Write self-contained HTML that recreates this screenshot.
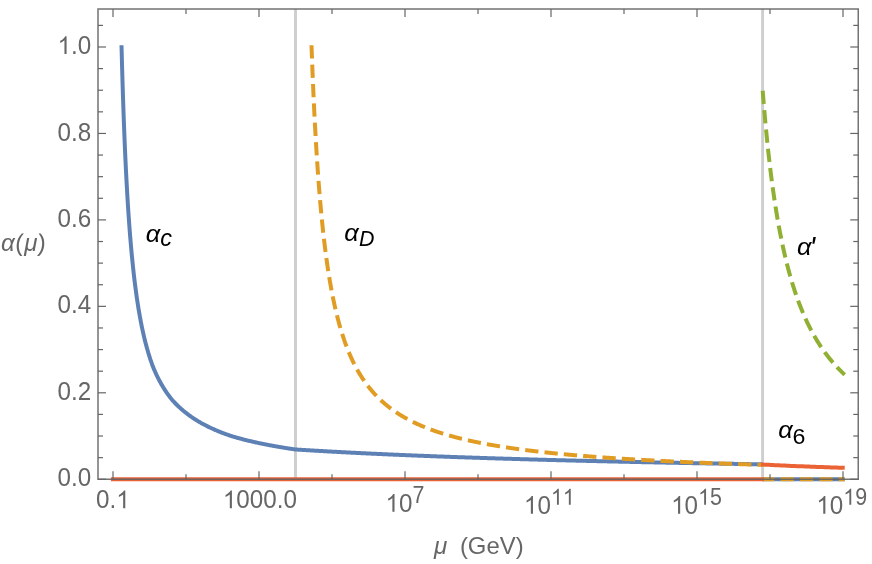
<!DOCTYPE html>
<html><head><meta charset="utf-8"><title>Running couplings</title>
<style>html,body{margin:0;padding:0;background:#fff;}body{width:872px;height:564px;overflow:hidden;font-family:"Liberation Sans",sans-serif;}svg{display:block;will-change:transform;}</style>
</head><body>
<svg width="872" height="564" viewBox="0 0 872 564">
<rect width="872" height="564" fill="#fff"/>
<g stroke="#cecece" stroke-width="2.9" fill="none">
<line x1="295.5" y1="9.0" x2="295.5" y2="479.25"/>
<line x1="762.6" y1="9.0" x2="762.6" y2="479.25"/>
</g>
<g fill="none" stroke-width="4.0" stroke-linejoin="round">
<path d="M121.50 45.20 L122.00 64.05 L122.50 81.32 L123.00 97.22 L123.50 111.89 L124.00 125.48 L124.50 138.10 L125.00 149.85 L125.50 160.82 L126.00 171.08 L126.50 180.70 L127.00 189.74 L127.50 198.25 L128.00 206.27 L128.50 213.85 L129.00 221.01 L129.50 227.80 L130.00 234.25 L130.50 240.37 L131.00 246.19 L131.50 251.73 L132.00 257.02 L132.50 262.07 L133.00 266.89 L133.50 271.50 L134.00 275.92 L134.50 280.15 L135.00 284.21 L135.50 288.11 L136.00 291.86 L136.50 295.46 L137.00 298.92 L137.50 302.26 L138.00 305.48 L138.50 308.58 L139.00 311.57 L139.50 314.46 L140.00 317.25 L140.50 319.95 L141.00 322.56 L141.50 325.09 L142.00 327.53 L142.50 329.90 L143.00 332.20 L143.50 334.43 L144.00 336.59 L144.50 338.68 L145.00 340.72 L145.50 342.70 L146.00 344.62 L146.50 346.49 L147.00 348.31 L147.50 350.08 L148.00 351.80 L148.50 353.47 L149.00 355.11 L149.50 356.70 L150.00 358.25 L150.50 359.76 L151.00 361.23 L151.50 362.67 L152.00 364.08 L152.50 365.45 L153.00 366.79 L153.50 368.05 L154.00 369.24 L154.50 370.40 L155.00 371.53 L155.50 372.65 L156.00 373.73 L156.50 374.80 L157.00 375.85 L157.50 376.87 L158.00 377.88 L158.50 378.86 L159.00 379.83 L159.50 380.78 L160.00 381.71 L160.50 382.62 L161.00 383.51 L161.50 384.39 L162.00 385.26 L162.50 386.10 L163.00 386.94 L163.50 387.76 L164.00 388.56 L164.50 389.35 L165.00 390.12 L165.50 390.89 L166.00 391.64 L166.50 392.37 L167.00 393.10 L167.50 393.81 L168.00 394.51 L168.50 395.20 L169.00 395.88 L169.50 396.55 L170.00 397.20 L170.50 397.85 L171.00 398.49 L171.50 399.11 L172.00 399.73 L172.50 400.31 L173.00 400.86 L173.50 401.40 L174.00 401.94 L174.50 402.47 L175.00 402.99 L175.50 403.50 L176.00 404.01 L176.50 404.51 L177.00 405.01 L177.50 405.49 L178.00 405.98 L178.50 406.45 L179.00 406.92 L179.50 407.38 L180.00 407.84 L180.50 408.29 L181.00 408.74 L181.50 409.18 L182.00 409.61 L182.50 410.04 L183.00 410.47 L183.50 410.88 L184.00 411.30 L184.50 411.71 L185.00 412.11 L185.50 412.51 L186.00 412.90 L186.50 413.29 L187.00 413.68 L187.50 414.06 L188.00 414.44 L188.50 414.81 L189.00 415.18 L189.50 415.54 L190.00 415.90 L190.50 416.25 L191.00 416.61 L191.50 416.95 L192.00 417.30 L192.50 417.64 L193.00 417.97 L193.50 418.31 L194.00 418.64 L194.50 418.96 L195.00 419.28 L195.50 419.60 L196.00 419.92 L196.50 420.23 L197.00 420.54 L197.50 420.84 L198.00 421.14 L198.50 421.44 L199.00 421.74 L199.50 422.03 L200.00 422.32 L200.50 422.61 L201.00 422.89 L201.50 423.18 L202.00 423.45 L202.50 423.73 L203.00 424.00 L203.50 424.27 L204.00 424.54 L204.50 424.81 L205.00 425.07 L205.50 425.33 L206.00 425.59 L206.50 425.84 L207.00 426.10 L207.50 426.35 L208.00 426.60 L208.50 426.84 L209.00 427.08 L209.50 427.33 L210.00 427.56 L210.50 427.80 L211.00 428.04 L211.50 428.27 L212.00 428.50 L212.50 428.73 L213.00 428.95 L213.50 429.18 L214.00 429.40 L214.50 429.62 L215.00 429.84 L215.50 430.06 L216.00 430.27 L216.50 430.48 L217.00 430.69 L217.50 430.90 L218.00 431.11 L218.50 431.32 L219.00 431.52 L219.50 431.72 L220.00 431.92 L220.50 432.12 L221.00 432.32 L221.50 432.51 L222.00 432.71 L222.50 432.90 L223.00 433.09 L223.50 433.28 L224.00 433.47 L224.50 433.65 L225.00 433.84 L225.50 434.02 L226.00 434.20 L226.50 434.38 L227.00 434.56 L227.50 434.74 L228.00 434.91 L228.50 435.09 L229.00 435.26 L229.50 435.43 L230.00 435.60 L230.50 435.77 L231.00 435.94 L231.50 436.10 L232.00 436.25 L232.50 436.40 L233.00 436.55 L233.50 436.69 L234.00 436.84 L234.50 436.99 L235.00 437.13 L235.50 437.27 L236.00 437.42 L236.50 437.56 L237.00 437.70 L237.50 437.84 L238.00 437.98 L238.50 438.12 L239.00 438.25 L239.50 438.39 L240.00 438.53 L240.50 438.66 L241.00 438.79 L241.50 438.93 L242.00 439.06 L242.50 439.19 L243.00 439.32 L243.50 439.45 L244.00 439.58 L244.50 439.70 L245.00 439.83 L245.50 439.96 L246.00 440.08 L246.50 440.21 L247.00 440.33 L247.50 440.45 L248.00 440.58 L248.50 440.70 L249.00 440.82 L249.50 440.94 L250.00 441.06 L250.50 441.17 L251.00 441.29 L251.50 441.41 L252.00 441.52 L252.50 441.64 L253.00 441.75 L253.50 441.87 L254.00 441.98 L254.50 442.09 L255.00 442.21 L255.50 442.32 L256.00 442.43 L256.50 442.54 L257.00 442.65 L257.50 442.76 L258.00 442.86 L258.50 442.97 L259.00 443.08 L259.50 443.18 L260.00 443.29 L260.50 443.39 L261.00 443.50 L261.50 443.60 L262.00 443.71 L262.50 443.81 L263.00 443.91 L263.50 444.01 L264.00 444.11 L264.50 444.21 L265.00 444.31 L265.50 444.41 L266.00 444.51 L266.50 444.61 L267.00 444.70 L267.50 444.80 L268.00 444.90 L268.50 444.99 L269.00 445.09 L269.50 445.18 L270.00 445.28 L270.50 445.37 L271.00 445.46 L271.50 445.56 L272.00 445.65 L272.50 445.74 L273.00 445.83 L273.50 445.92 L274.00 446.01 L274.50 446.10 L275.00 446.19 L275.50 446.28 L276.00 446.37 L276.50 446.45 L277.00 446.54 L277.50 446.63 L278.00 446.71 L278.50 446.80 L279.00 446.89 L279.50 446.97 L280.00 447.06 L280.50 447.14 L281.00 447.22 L281.50 447.31 L282.00 447.39 L282.50 447.47 L283.00 447.55 L283.50 447.63 L284.00 447.72 L284.50 447.80 L285.00 447.88 L285.50 447.96 L286.00 448.04 L286.50 448.12 L287.00 448.19 L287.50 448.27 L288.00 448.35 L288.50 448.43 L289.00 448.50 L289.50 448.58 L290.00 448.66 L290.50 448.73 L291.00 448.81 L291.50 448.88 L292.00 448.96 L292.50 449.03 L293.00 449.11 L293.50 449.18 L294.00 449.25 L294.50 449.33 L295.00 449.40 L295.50 449.47 L296.00 449.50 L296.50 449.54 L297.00 449.57 L297.50 449.60 L298.00 449.63 L298.50 449.66 L299.00 449.69 L299.50 449.72 L300.00 449.76 L300.50 449.79 L301.00 449.82 L301.50 449.85 L302.00 449.88 L302.50 449.91 L303.00 449.94 L303.50 449.97 L304.00 450.00 L304.50 450.03 L305.00 450.06 L305.50 450.09 L306.00 450.13 L306.50 450.16 L307.00 450.19 L307.50 450.22 L308.00 450.25 L308.50 450.28 L309.00 450.31 L309.50 450.34 L310.00 450.37 L310.50 450.40 L311.00 450.43 L311.50 450.46 L312.00 450.49 L312.50 450.52 L313.00 450.54 L313.50 450.57 L314.00 450.60 L314.50 450.63 L315.00 450.66 L315.50 450.69 L316.00 450.72 L316.50 450.75 L317.00 450.78 L317.50 450.81 L318.00 450.84 L318.50 450.87 L319.00 450.90 L319.50 450.92 L320.00 450.95 L320.50 450.98 L321.00 451.01 L321.50 451.04 L322.00 451.07 L322.50 451.10 L323.00 451.12 L323.50 451.15 L324.00 451.18 L324.50 451.21 L325.00 451.24 L325.50 451.27 L326.00 451.29 L326.50 451.32 L327.00 451.35 L327.50 451.38 L328.00 451.40 L328.50 451.43 L329.00 451.46 L329.50 451.49 L330.00 451.52 L330.50 451.54 L331.00 451.57 L331.50 451.60 L332.00 451.63 L332.50 451.65 L333.00 451.68 L333.50 451.71 L334.00 451.73 L334.50 451.76 L335.00 451.79 L335.50 451.82 L336.00 451.84 L336.50 451.87 L337.00 451.90 L337.50 451.92 L338.00 451.95 L338.50 451.98 L339.00 452.00 L339.50 452.03 L340.00 452.06 L340.50 452.08 L341.00 452.11 L341.50 452.14 L342.00 452.16 L342.50 452.19 L343.00 452.21 L343.50 452.24 L344.00 452.27 L344.50 452.29 L345.00 452.32 L345.50 452.35 L346.00 452.37 L346.50 452.40 L347.00 452.42 L347.50 452.45 L348.00 452.47 L348.50 452.50 L349.00 452.53 L349.50 452.55 L350.00 452.58 L350.50 452.60 L351.00 452.63 L351.50 452.65 L352.00 452.68 L352.50 452.70 L353.00 452.73 L353.50 452.75 L354.00 452.78 L354.50 452.80 L355.00 452.83 L355.50 452.85 L356.00 452.88 L356.50 452.90 L357.00 452.93 L357.50 452.95 L358.00 452.98 L358.50 453.00 L359.00 453.03 L359.50 453.05 L360.00 453.08 L360.50 453.10 L361.00 453.13 L361.50 453.15 L362.00 453.18 L362.50 453.20 L363.00 453.22 L363.50 453.25 L364.00 453.27 L364.50 453.30 L365.00 453.32 L365.50 453.34 L366.00 453.37 L366.50 453.39 L367.00 453.42 L367.50 453.44 L368.00 453.46 L368.50 453.49 L369.00 453.51 L369.50 453.54 L370.00 453.56 L370.50 453.58 L371.00 453.61 L371.50 453.63 L372.00 453.65 L372.50 453.68 L373.00 453.70 L373.50 453.72 L374.00 453.75 L374.50 453.77 L375.00 453.79 L375.50 453.82 L376.00 453.84 L376.50 453.86 L377.00 453.89 L377.50 453.91 L378.00 453.93 L378.50 453.96 L379.00 453.98 L379.50 454.00 L380.00 454.02 L380.50 454.05 L381.00 454.07 L381.50 454.09 L382.00 454.12 L382.50 454.14 L383.00 454.16 L383.50 454.18 L384.00 454.21 L384.50 454.23 L385.00 454.25 L385.50 454.27 L386.00 454.30 L386.50 454.32 L387.00 454.34 L387.50 454.36 L388.00 454.38 L388.50 454.41 L389.00 454.43 L389.50 454.45 L390.00 454.47 L390.50 454.49 L391.00 454.52 L391.50 454.54 L392.00 454.56 L392.50 454.58 L393.00 454.60 L393.50 454.63 L394.00 454.65 L394.50 454.67 L395.00 454.69 L395.50 454.71 L396.00 454.73 L396.50 454.76 L397.00 454.78 L397.50 454.80 L398.00 454.82 L398.50 454.84 L399.00 454.86 L399.50 454.88 L400.00 454.91 L400.50 454.93 L401.00 454.95 L401.50 454.97 L402.00 454.99 L402.50 455.01 L403.00 455.03 L403.50 455.05 L404.00 455.07 L404.50 455.09 L405.00 455.12 L405.50 455.14 L406.00 455.16 L406.50 455.18 L407.00 455.20 L407.50 455.22 L408.00 455.24 L408.50 455.26 L409.00 455.28 L409.50 455.30 L410.00 455.32 L410.50 455.34 L411.00 455.36 L411.50 455.38 L412.00 455.40 L412.50 455.43 L413.00 455.45 L413.50 455.47 L414.00 455.49 L414.50 455.51 L415.00 455.53 L415.50 455.55 L416.00 455.57 L416.50 455.59 L417.00 455.61 L417.50 455.63 L418.00 455.65 L418.50 455.67 L419.00 455.69 L419.50 455.71 L420.00 455.73 L420.50 455.75 L421.00 455.77 L421.50 455.79 L422.00 455.81 L422.50 455.83 L423.00 455.85 L423.50 455.86 L424.00 455.88 L424.50 455.90 L425.00 455.92 L425.50 455.94 L426.00 455.96 L426.50 455.98 L427.00 456.00 L427.50 456.02 L428.00 456.04 L428.50 456.06 L429.00 456.08 L429.50 456.10 L430.00 456.12 L430.50 456.14 L431.00 456.16 L431.50 456.17 L432.00 456.19 L432.50 456.21 L433.00 456.23 L433.50 456.25 L434.00 456.27 L434.50 456.29 L435.00 456.31 L435.50 456.33 L436.00 456.34 L436.50 456.36 L437.00 456.38 L437.50 456.40 L438.00 456.42 L438.50 456.44 L439.00 456.46 L439.50 456.48 L440.00 456.49 L440.50 456.51 L441.00 456.53 L441.50 456.55 L442.00 456.57 L442.50 456.59 L443.00 456.61 L443.50 456.62 L444.00 456.64 L444.50 456.66 L445.00 456.68 L445.50 456.70 L446.00 456.72 L446.50 456.73 L447.00 456.75 L447.50 456.77 L448.00 456.79 L448.50 456.81 L449.00 456.82 L449.50 456.84 L450.00 456.86 L450.50 456.88 L451.00 456.90 L451.50 456.91 L452.00 456.93 L452.50 456.95 L453.00 456.97 L453.50 456.98 L454.00 457.00 L454.50 457.02 L455.00 457.04 L455.50 457.06 L456.00 457.07 L456.50 457.09 L457.00 457.11 L457.50 457.13 L458.00 457.14 L458.50 457.16 L459.00 457.18 L459.50 457.20 L460.00 457.21 L460.50 457.23 L461.00 457.25 L461.50 457.27 L462.00 457.28 L462.50 457.30 L463.00 457.32 L463.50 457.33 L464.00 457.35 L464.50 457.37 L465.00 457.39 L465.50 457.40 L466.00 457.42 L466.50 457.44 L467.00 457.45 L467.50 457.47 L468.00 457.49 L468.50 457.51 L469.00 457.52 L469.50 457.54 L470.00 457.56 L470.50 457.57 L471.00 457.59 L471.50 457.61 L472.00 457.62 L472.50 457.64 L473.00 457.66 L473.50 457.67 L474.00 457.69 L474.50 457.71 L475.00 457.72 L475.50 457.74 L476.00 457.76 L476.50 457.77 L477.00 457.79 L477.50 457.81 L478.00 457.82 L478.50 457.84 L479.00 457.86 L479.50 457.87 L480.00 457.89 L480.50 457.91 L481.00 457.92 L481.50 457.94 L482.00 457.95 L482.50 457.97 L483.00 457.99 L483.50 458.00 L484.00 458.02 L484.50 458.04 L485.00 458.05 L485.50 458.07 L486.00 458.08 L486.50 458.10 L487.00 458.12 L487.50 458.13 L488.00 458.15 L488.50 458.16 L489.00 458.18 L489.50 458.20 L490.00 458.21 L490.50 458.23 L491.00 458.24 L491.50 458.26 L492.00 458.27 L492.50 458.29 L493.00 458.31 L493.50 458.32 L494.00 458.34 L494.50 458.35 L495.00 458.37 L495.50 458.38 L496.00 458.40 L496.50 458.42 L497.00 458.43 L497.50 458.45 L498.00 458.46 L498.50 458.48 L499.00 458.49 L499.50 458.51 L500.00 458.52 L500.50 458.54 L501.00 458.55 L501.50 458.57 L502.00 458.59 L502.50 458.60 L503.00 458.62 L503.50 458.63 L504.00 458.65 L504.50 458.66 L505.00 458.68 L505.50 458.69 L506.00 458.71 L506.50 458.72 L507.00 458.74 L507.50 458.75 L508.00 458.77 L508.50 458.78 L509.00 458.80 L509.50 458.81 L510.00 458.83 L510.50 458.84 L511.00 458.86 L511.50 458.87 L512.00 458.89 L512.50 458.90 L513.00 458.92 L513.50 458.93 L514.00 458.95 L514.50 458.96 L515.00 458.98 L515.50 458.99 L516.00 459.01 L516.50 459.02 L517.00 459.03 L517.50 459.05 L518.00 459.06 L518.50 459.08 L519.00 459.09 L519.50 459.11 L520.00 459.12 L520.50 459.14 L521.00 459.15 L521.50 459.17 L522.00 459.18 L522.50 459.19 L523.00 459.21 L523.50 459.22 L524.00 459.24 L524.50 459.25 L525.00 459.27 L525.50 459.28 L526.00 459.30 L526.50 459.31 L527.00 459.32 L527.50 459.34 L528.00 459.35 L528.50 459.37 L529.00 459.38 L529.50 459.39 L530.00 459.41 L530.50 459.42 L531.00 459.44 L531.50 459.45 L532.00 459.46 L532.50 459.48 L533.00 459.49 L533.50 459.51 L534.00 459.52 L534.50 459.53 L535.00 459.55 L535.50 459.56 L536.00 459.58 L536.50 459.59 L537.00 459.60 L537.50 459.62 L538.00 459.63 L538.50 459.65 L539.00 459.66 L539.50 459.67 L540.00 459.69 L540.50 459.70 L541.00 459.71 L541.50 459.73 L542.00 459.74 L542.50 459.76 L543.00 459.77 L543.50 459.78 L544.00 459.80 L544.50 459.81 L545.00 459.82 L545.50 459.84 L546.00 459.85 L546.50 459.86 L547.00 459.88 L547.50 459.89 L548.00 459.90 L548.50 459.92 L549.00 459.93 L549.50 459.94 L550.00 459.96 L550.50 459.97 L551.00 459.98 L551.50 460.00 L552.00 460.01 L552.50 460.02 L553.00 460.04 L553.50 460.05 L554.00 460.06 L554.50 460.08 L555.00 460.09 L555.50 460.10 L556.00 460.12 L556.50 460.13 L557.00 460.14 L557.50 460.16 L558.00 460.17 L558.50 460.18 L559.00 460.19 L559.50 460.21 L560.00 460.22 L560.50 460.23 L561.00 460.25 L561.50 460.26 L562.00 460.27 L562.50 460.29 L563.00 460.30 L563.50 460.31 L564.00 460.32 L564.50 460.34 L565.00 460.35 L565.50 460.36 L566.00 460.38 L566.50 460.39 L567.00 460.40 L567.50 460.41 L568.00 460.43 L568.50 460.44 L569.00 460.45 L569.50 460.46 L570.00 460.48 L570.50 460.49 L571.00 460.50 L571.50 460.52 L572.00 460.53 L572.50 460.54 L573.00 460.55 L573.50 460.57 L574.00 460.58 L574.50 460.59 L575.00 460.60 L575.50 460.62 L576.00 460.63 L576.50 460.64 L577.00 460.65 L577.50 460.66 L578.00 460.68 L578.50 460.69 L579.00 460.70 L579.50 460.71 L580.00 460.73 L580.50 460.74 L581.00 460.75 L581.50 460.76 L582.00 460.78 L582.50 460.79 L583.00 460.80 L583.50 460.81 L584.00 460.82 L584.50 460.84 L585.00 460.85 L585.50 460.86 L586.00 460.87 L586.50 460.89 L587.00 460.90 L587.50 460.91 L588.00 460.92 L588.50 460.93 L589.00 460.95 L589.50 460.96 L590.00 460.97 L590.50 460.98 L591.00 460.99 L591.50 461.01 L592.00 461.02 L592.50 461.03 L593.00 461.04 L593.50 461.05 L594.00 461.06 L594.50 461.08 L595.00 461.09 L595.50 461.10 L596.00 461.11 L596.50 461.12 L597.00 461.14 L597.50 461.15 L598.00 461.16 L598.50 461.17 L599.00 461.18 L599.50 461.19 L600.00 461.21 L600.50 461.22 L601.00 461.23 L601.50 461.24 L602.00 461.25 L602.50 461.26 L603.00 461.28 L603.50 461.29 L604.00 461.30 L604.50 461.31 L605.00 461.32 L605.50 461.33 L606.00 461.34 L606.50 461.36 L607.00 461.37 L607.50 461.38 L608.00 461.39 L608.50 461.40 L609.00 461.41 L609.50 461.43 L610.00 461.44 L610.50 461.45 L611.00 461.46 L611.50 461.47 L612.00 461.48 L612.50 461.49 L613.00 461.50 L613.50 461.52 L614.00 461.53 L614.50 461.54 L615.00 461.55 L615.50 461.56 L616.00 461.57 L616.50 461.58 L617.00 461.59 L617.50 461.61 L618.00 461.62 L618.50 461.63 L619.00 461.64 L619.50 461.65 L620.00 461.66 L620.50 461.67 L621.00 461.68 L621.50 461.69 L622.00 461.71 L622.50 461.72 L623.00 461.73 L623.50 461.74 L624.00 461.75 L624.50 461.76 L625.00 461.77 L625.50 461.78 L626.00 461.79 L626.50 461.80 L627.00 461.82 L627.50 461.83 L628.00 461.84 L628.50 461.85 L629.00 461.86 L629.50 461.87 L630.00 461.88 L630.50 461.89 L631.00 461.90 L631.50 461.91 L632.00 461.92 L632.50 461.93 L633.00 461.94 L633.50 461.96 L634.00 461.97 L634.50 461.98 L635.00 461.99 L635.50 462.00 L636.00 462.01 L636.50 462.02 L637.00 462.03 L637.50 462.04 L638.00 462.05 L638.50 462.06 L639.00 462.07 L639.50 462.08 L640.00 462.09 L640.50 462.10 L641.00 462.12 L641.50 462.13 L642.00 462.14 L642.50 462.15 L643.00 462.16 L643.50 462.17 L644.00 462.18 L644.50 462.19 L645.00 462.20 L645.50 462.21 L646.00 462.22 L646.50 462.23 L647.00 462.24 L647.50 462.25 L648.00 462.26 L648.50 462.27 L649.00 462.28 L649.50 462.29 L650.00 462.30 L650.50 462.31 L651.00 462.32 L651.50 462.33 L652.00 462.34 L652.50 462.35 L653.00 462.36 L653.50 462.37 L654.00 462.38 L654.50 462.39 L655.00 462.40 L655.50 462.42 L656.00 462.43 L656.50 462.44 L657.00 462.45 L657.50 462.46 L658.00 462.47 L658.50 462.48 L659.00 462.49 L659.50 462.50 L660.00 462.51 L660.50 462.52 L661.00 462.53 L661.50 462.54 L662.00 462.55 L662.50 462.56 L663.00 462.57 L663.50 462.58 L664.00 462.59 L664.50 462.60 L665.00 462.61 L665.50 462.62 L666.00 462.63 L666.50 462.64 L667.00 462.65 L667.50 462.66 L668.00 462.67 L668.50 462.68 L669.00 462.69 L669.50 462.69 L670.00 462.70 L670.50 462.71 L671.00 462.72 L671.50 462.73 L672.00 462.74 L672.50 462.75 L673.00 462.76 L673.50 462.77 L674.00 462.78 L674.50 462.79 L675.00 462.80 L675.50 462.81 L676.00 462.82 L676.50 462.83 L677.00 462.84 L677.50 462.85 L678.00 462.86 L678.50 462.87 L679.00 462.88 L679.50 462.89 L680.00 462.90 L680.50 462.91 L681.00 462.92 L681.50 462.93 L682.00 462.94 L682.50 462.95 L683.00 462.96 L683.50 462.97 L684.00 462.98 L684.50 462.98 L685.00 462.99 L685.50 463.00 L686.00 463.01 L686.50 463.02 L687.00 463.03 L687.50 463.04 L688.00 463.05 L688.50 463.06 L689.00 463.07 L689.50 463.08 L690.00 463.09 L690.50 463.10 L691.00 463.11 L691.50 463.12 L692.00 463.13 L692.50 463.13 L693.00 463.14 L693.50 463.15 L694.00 463.16 L694.50 463.17 L695.00 463.18 L695.50 463.19 L696.00 463.20 L696.50 463.21 L697.00 463.22 L697.50 463.23 L698.00 463.24 L698.50 463.25 L699.00 463.26 L699.50 463.26 L700.00 463.27 L700.50 463.28 L701.00 463.29 L701.50 463.30 L702.00 463.31 L702.50 463.32 L703.00 463.33 L703.50 463.34 L704.00 463.35 L704.50 463.36 L705.00 463.36 L705.50 463.37 L706.00 463.38 L706.50 463.39 L707.00 463.40 L707.50 463.41 L708.00 463.42 L708.50 463.43 L709.00 463.44 L709.50 463.45 L710.00 463.45 L710.50 463.46 L711.00 463.47 L711.50 463.48 L712.00 463.49 L712.50 463.50 L713.00 463.51 L713.50 463.52 L714.00 463.53 L714.50 463.53 L715.00 463.54 L715.50 463.55 L716.00 463.56 L716.50 463.57 L717.00 463.58 L717.50 463.59 L718.00 463.60 L718.50 463.61 L719.00 463.61 L719.50 463.62 L720.00 463.63 L720.50 463.64 L721.00 463.65 L721.50 463.66 L722.00 463.67 L722.50 463.67 L723.00 463.68 L723.50 463.69 L724.00 463.70 L724.50 463.71 L725.00 463.72 L725.50 463.73 L726.00 463.74 L726.50 463.74 L727.00 463.75 L727.50 463.76 L728.00 463.77 L728.50 463.78 L729.00 463.79 L729.50 463.80 L730.00 463.80 L730.50 463.81 L731.00 463.82 L731.50 463.83 L732.00 463.84 L732.50 463.85 L733.00 463.86 L733.50 463.86 L734.00 463.87 L734.50 463.88 L735.00 463.89 L735.50 463.90 L736.00 463.91 L736.50 463.91 L737.00 463.92 L737.50 463.93 L738.00 463.94 L738.50 463.95 L739.00 463.96 L739.50 463.97 L740.00 463.97 L740.50 463.98 L741.00 463.99 L741.50 464.00 L742.00 464.01 L742.50 464.02 L743.00 464.02 L743.50 464.03 L744.00 464.04 L744.50 464.05 L745.00 464.06 L745.50 464.07 L746.00 464.07 L746.50 464.08 L747.00 464.09 L747.50 464.10 L748.00 464.11 L748.50 464.11 L749.00 464.12 L749.50 464.13 L750.00 464.14 L750.50 464.15 L751.00 464.16 L751.50 464.16 L752.00 464.17 L752.50 464.18 L753.00 464.19 L753.50 464.20 L754.00 464.20 L754.50 464.21 L755.00 464.22 L755.50 464.23 L756.00 464.24 L756.50 464.24 L757.00 464.25 L757.50 464.26 L758.00 464.27 L758.50 464.28 L759.00 464.29 L759.50 464.29 L760.00 464.30 L760.50 464.31 L761.00 464.32 L761.50 464.33 L762.00 464.33 L762.50 464.34 L762.60 464.34" stroke="#5e81b5"/>
<path d="M762.6 479.25 L844.7 479.25" stroke="#5e81b5"/>
<path d="M311.50 45.20 L312.00 58.82 L312.50 71.60 L313.00 83.64 L313.50 94.98 L314.00 105.69 L314.50 115.82 L315.00 125.41 L315.50 134.51 L316.00 143.16 L316.50 151.38 L317.00 159.21 L317.50 166.67 L318.00 173.80 L318.50 180.60 L319.00 187.11 L319.50 193.34 L320.00 199.31 L320.50 205.04 L321.00 210.54 L321.50 215.82 L322.00 220.90 L322.50 225.78 L323.00 230.49 L323.50 235.02 L324.00 239.39 L324.50 243.61 L325.00 247.68 L325.50 251.61 L326.00 255.41 L326.50 259.09 L327.00 262.65 L327.50 266.09 L328.00 269.43 L328.50 272.66 L329.00 275.80 L329.50 278.84 L330.00 281.79 L330.50 284.66 L331.00 287.45 L331.50 290.15 L332.00 292.78 L332.50 295.34 L333.00 297.83 L333.50 300.25 L334.00 302.61 L334.50 304.91 L335.00 307.15 L335.50 309.33 L336.00 311.46 L336.50 313.53 L337.00 315.56 L337.50 317.53 L338.00 319.46 L338.50 321.34 L339.00 323.18 L339.50 324.98 L340.00 326.73 L340.50 328.45 L341.00 330.13 L341.50 331.77 L342.00 333.37 L342.50 334.94 L343.00 336.48 L343.50 337.99 L344.00 339.46 L344.50 340.90 L345.00 342.31 L345.50 343.70 L346.00 345.06 L346.50 346.39 L347.00 347.69 L347.50 348.97 L348.00 350.22 L348.50 351.45 L349.00 352.66 L349.50 353.85 L350.00 355.01 L350.50 356.15 L351.00 357.27 L351.50 358.37 L352.00 359.45 L352.50 360.51 L353.00 361.55 L353.50 362.58 L354.00 363.59 L354.50 364.58 L355.00 365.55 L355.50 366.50 L356.00 367.44 L356.50 368.37 L357.00 369.28 L357.50 370.17 L358.00 371.06 L358.50 371.92 L359.00 372.77 L359.50 373.61 L360.00 374.44 L360.50 375.25 L361.00 376.05 L361.50 376.84 L362.00 377.62 L362.50 378.38 L363.00 379.14 L363.50 379.88 L364.00 380.61 L364.50 381.33 L365.00 382.04 L365.50 382.74 L366.00 383.43 L366.50 384.11 L367.00 384.78 L367.50 385.44 L368.00 386.09 L368.50 386.74 L369.00 387.37 L369.50 388.00 L370.00 388.61 L370.50 389.22 L371.00 389.82 L371.50 390.42 L372.00 391.00 L372.50 391.58 L373.00 392.15 L373.50 392.71 L374.00 393.27 L374.50 393.81 L375.00 394.36 L375.50 394.89 L376.00 395.42 L376.50 395.94 L377.00 396.45 L377.50 396.96 L378.00 397.46 L378.50 397.96 L379.00 398.45 L379.50 398.93 L380.00 399.41 L380.50 399.88 L381.00 400.35 L381.50 400.81 L382.00 401.27 L382.50 401.72 L383.00 402.17 L383.50 402.61 L384.00 403.04 L384.50 403.47 L385.00 403.90 L385.50 404.32 L386.00 404.74 L386.50 405.15 L387.00 405.56 L387.50 405.96 L388.00 406.36 L388.50 406.75 L389.00 407.14 L389.50 407.53 L390.00 407.91 L390.50 408.29 L391.00 408.66 L391.50 409.03 L392.00 409.40 L392.50 409.76 L393.00 410.12 L393.50 410.47 L394.00 410.82 L394.50 411.17 L395.00 411.52 L395.50 411.86 L396.00 412.19 L396.50 412.53 L397.00 412.86 L397.50 413.19 L398.00 413.51 L398.50 413.83 L399.00 414.15 L399.50 414.46 L400.00 414.77 L400.50 415.08 L401.00 415.39 L401.50 415.69 L402.00 415.99 L402.50 416.29 L403.00 416.58 L403.50 416.87 L404.00 417.16 L404.50 417.45 L405.00 417.73 L405.50 418.01 L406.00 418.29 L406.50 418.57 L407.00 418.84 L407.50 419.11 L408.00 419.38 L408.50 419.65 L409.00 419.91 L409.50 420.17 L410.00 420.43 L410.50 420.69 L411.00 420.95 L411.50 421.20 L412.00 421.45 L412.50 421.70 L413.00 421.94 L413.50 422.19 L414.00 422.43 L414.50 422.67 L415.00 422.91 L415.50 423.14 L416.00 423.38 L416.50 423.61 L417.00 423.84 L417.50 424.07 L418.00 424.29 L418.50 424.52 L419.00 424.74 L419.50 424.96 L420.00 425.18 L420.50 425.40 L421.00 425.61 L421.50 425.83 L422.00 426.04 L422.50 426.25 L423.00 426.46 L423.50 426.66 L424.00 426.87 L424.50 427.07 L425.00 427.28 L425.50 427.48 L426.00 427.68 L426.50 427.87 L427.00 428.07 L427.50 428.26 L428.00 428.46 L428.50 428.65 L429.00 428.84 L429.50 429.03 L430.00 429.22 L430.50 429.40 L431.00 429.59 L431.50 429.77 L432.00 429.95 L432.50 430.13 L433.00 430.31 L433.50 430.49 L434.00 430.67 L434.50 430.84 L435.00 431.02 L435.50 431.19 L436.00 431.36 L436.50 431.53 L437.00 431.70 L437.50 431.87 L438.00 432.04 L438.50 432.20 L439.00 432.37 L439.50 432.53 L440.00 432.69 L440.50 432.85 L441.00 433.01 L441.50 433.17 L442.00 433.33 L442.50 433.49 L443.00 433.64 L443.50 433.80 L444.00 433.95 L444.50 434.10 L445.00 434.25 L445.50 434.41 L446.00 434.55 L446.50 434.70 L447.00 434.85 L447.50 435.00 L448.00 435.14 L448.50 435.29 L449.00 435.43 L449.50 435.57 L450.00 435.72 L450.50 435.86 L451.00 436.00 L451.50 436.14 L452.00 436.27 L452.50 436.41 L453.00 436.55 L453.50 436.68 L454.00 436.82 L454.50 436.95 L455.00 437.09 L455.50 437.22 L456.00 437.35 L456.50 437.48 L457.00 437.61 L457.50 437.74 L458.00 437.87 L458.50 437.99 L459.00 438.12 L459.50 438.25 L460.00 438.37 L460.50 438.50 L461.00 438.62 L461.50 438.74 L462.00 438.86 L462.50 438.99 L463.00 439.11 L463.50 439.23 L464.00 439.35 L464.50 439.46 L465.00 439.58 L465.50 439.70 L466.00 439.82 L466.50 439.93 L467.00 440.05 L467.50 440.16 L468.00 440.27 L468.50 440.39 L469.00 440.50 L469.50 440.61 L470.00 440.72 L470.50 440.83 L471.00 440.94 L471.50 441.05 L472.00 441.16 L472.50 441.27 L473.00 441.38 L473.50 441.48 L474.00 441.59 L474.50 441.69 L475.00 441.80 L475.50 441.90 L476.00 442.01 L476.50 442.11 L477.00 442.21 L477.50 442.31 L478.00 442.42 L478.50 442.52 L479.00 442.62 L479.50 442.72 L480.00 442.82 L480.50 442.92 L481.00 443.01 L481.50 443.11 L482.00 443.21 L482.50 443.31 L483.00 443.40 L483.50 443.50 L484.00 443.59 L484.50 443.69 L485.00 443.78 L485.50 443.87 L486.00 443.97 L486.50 444.06 L487.00 444.15 L487.50 444.24 L488.00 444.34 L488.50 444.43 L489.00 444.52 L489.50 444.61 L490.00 444.70 L490.50 444.78 L491.00 444.87 L491.50 444.96 L492.00 445.05 L492.50 445.13 L493.00 445.22 L493.50 445.31 L494.00 445.39 L494.50 445.48 L495.00 445.56 L495.50 445.65 L496.00 445.73 L496.50 445.82 L497.00 445.90 L497.50 445.98 L498.00 446.06 L498.50 446.15 L499.00 446.23 L499.50 446.31 L500.00 446.39 L500.50 446.47 L501.00 446.55 L501.50 446.63 L502.00 446.71 L502.50 446.79 L503.00 446.87 L503.50 446.94 L504.00 447.02 L504.50 447.10 L505.00 447.18 L505.50 447.25 L506.00 447.33 L506.50 447.40 L507.00 447.48 L507.50 447.56 L508.00 447.63 L508.50 447.70 L509.00 447.78 L509.50 447.85 L510.00 447.93 L510.50 448.00 L511.00 448.07 L511.50 448.14 L512.00 448.22 L512.50 448.29 L513.00 448.36 L513.50 448.43 L514.00 448.50 L514.50 448.57 L515.00 448.64 L515.50 448.71 L516.00 448.78 L516.50 448.85 L517.00 448.92 L517.50 448.99 L518.00 449.05 L518.50 449.12 L519.00 449.19 L519.50 449.26 L520.00 449.32 L520.50 449.39 L521.00 449.46 L521.50 449.52 L522.00 449.59 L522.50 449.65 L523.00 449.72 L523.50 449.78 L524.00 449.85 L524.50 449.91 L525.00 449.98 L525.50 450.04 L526.00 450.11 L526.50 450.17 L527.00 450.23 L527.50 450.29 L528.00 450.36 L528.50 450.42 L529.00 450.48 L529.50 450.54 L530.00 450.60 L530.50 450.66 L531.00 450.73 L531.50 450.79 L532.00 450.85 L532.50 450.91 L533.00 450.97 L533.50 451.03 L534.00 451.09 L534.50 451.14 L535.00 451.20 L535.50 451.26 L536.00 451.32 L536.50 451.38 L537.00 451.44 L537.50 451.49 L538.00 451.55 L538.50 451.61 L539.00 451.66 L539.50 451.72 L540.00 451.78 L540.50 451.83 L541.00 451.89 L541.50 451.95 L542.00 452.00 L542.50 452.06 L543.00 452.11 L543.50 452.17 L544.00 452.22 L544.50 452.28 L545.00 452.33 L545.50 452.38 L546.00 452.44 L546.50 452.49 L547.00 452.54 L547.50 452.60 L548.00 452.65 L548.50 452.70 L549.00 452.76 L549.50 452.81 L550.00 452.86 L550.50 452.91 L551.00 452.96 L551.50 453.01 L552.00 453.07 L552.50 453.12 L553.00 453.17 L553.50 453.22 L554.00 453.27 L554.50 453.32 L555.00 453.37 L555.50 453.42 L556.00 453.47 L556.50 453.52 L557.00 453.57 L557.50 453.62 L558.00 453.67 L558.50 453.71 L559.00 453.76 L559.50 453.81 L560.00 453.86 L560.50 453.91 L561.00 453.96 L561.50 454.00 L562.00 454.05 L562.50 454.10 L563.00 454.14 L563.50 454.19 L564.00 454.24 L564.50 454.29 L565.00 454.33 L565.50 454.38 L566.00 454.42 L566.50 454.47 L567.00 454.52 L567.50 454.56 L568.00 454.61 L568.50 454.65 L569.00 454.70 L569.50 454.74 L570.00 454.79 L570.50 454.83 L571.00 454.88 L571.50 454.92 L572.00 454.96 L572.50 455.01 L573.00 455.05 L573.50 455.10 L574.00 455.14 L574.50 455.18 L575.00 455.22 L575.50 455.27 L576.00 455.31 L576.50 455.35 L577.00 455.40 L577.50 455.44 L578.00 455.48 L578.50 455.52 L579.00 455.56 L579.50 455.61 L580.00 455.65 L580.50 455.69 L581.00 455.73 L581.50 455.77 L582.00 455.81 L582.50 455.85 L583.00 455.89 L583.50 455.94 L584.00 455.98 L584.50 456.02 L585.00 456.06 L585.50 456.10 L586.00 456.14 L586.50 456.18 L587.00 456.22 L587.50 456.26 L588.00 456.29 L588.50 456.33 L589.00 456.37 L589.50 456.41 L590.00 456.45 L590.50 456.49 L591.00 456.53 L591.50 456.57 L592.00 456.61 L592.50 456.64 L593.00 456.68 L593.50 456.72 L594.00 456.76 L594.50 456.79 L595.00 456.83 L595.50 456.87 L596.00 456.91 L596.50 456.94 L597.00 456.98 L597.50 457.02 L598.00 457.05 L598.50 457.09 L599.00 457.13 L599.50 457.16 L600.00 457.20 L600.50 457.24 L601.00 457.27 L601.50 457.31 L602.00 457.35 L602.50 457.38 L603.00 457.42 L603.50 457.45 L604.00 457.49 L604.50 457.52 L605.00 457.56 L605.50 457.59 L606.00 457.63 L606.50 457.66 L607.00 457.70 L607.50 457.73 L608.00 457.77 L608.50 457.80 L609.00 457.84 L609.50 457.87 L610.00 457.90 L610.50 457.94 L611.00 457.97 L611.50 458.00 L612.00 458.04 L612.50 458.07 L613.00 458.11 L613.50 458.14 L614.00 458.17 L614.50 458.21 L615.00 458.24 L615.50 458.27 L616.00 458.30 L616.50 458.34 L617.00 458.37 L617.50 458.40 L618.00 458.43 L618.50 458.47 L619.00 458.50 L619.50 458.53 L620.00 458.56 L620.50 458.59 L621.00 458.63 L621.50 458.66 L622.00 458.69 L622.50 458.72 L623.00 458.75 L623.50 458.78 L624.00 458.81 L624.50 458.85 L625.00 458.88 L625.50 458.91 L626.00 458.94 L626.50 458.97 L627.00 459.00 L627.50 459.03 L628.00 459.06 L628.50 459.09 L629.00 459.12 L629.50 459.15 L630.00 459.18 L630.50 459.21 L631.00 459.24 L631.50 459.27 L632.00 459.30 L632.50 459.33 L633.00 459.36 L633.50 459.39 L634.00 459.42 L634.50 459.45 L635.00 459.48 L635.50 459.51 L636.00 459.54 L636.50 459.57 L637.00 459.59 L637.50 459.62 L638.00 459.65 L638.50 459.68 L639.00 459.71 L639.50 459.74 L640.00 459.77 L640.50 459.79 L641.00 459.82 L641.50 459.85 L642.00 459.88 L642.50 459.91 L643.00 459.93 L643.50 459.96 L644.00 459.99 L644.50 460.02 L645.00 460.04 L645.50 460.07 L646.00 460.10 L646.50 460.13 L647.00 460.15 L647.50 460.18 L648.00 460.21 L648.50 460.24 L649.00 460.26 L649.50 460.29 L650.00 460.32 L650.50 460.34 L651.00 460.37 L651.50 460.40 L652.00 460.42 L652.50 460.45 L653.00 460.47 L653.50 460.50 L654.00 460.53 L654.50 460.55 L655.00 460.58 L655.50 460.61 L656.00 460.63 L656.50 460.66 L657.00 460.68 L657.50 460.71 L658.00 460.73 L658.50 460.76 L659.00 460.79 L659.50 460.81 L660.00 460.84 L660.50 460.86 L661.00 460.89 L661.50 460.91 L662.00 460.94 L662.50 460.96 L663.00 460.99 L663.50 461.01 L664.00 461.04 L664.50 461.06 L665.00 461.09 L665.50 461.11 L666.00 461.13 L666.50 461.16 L667.00 461.18 L667.50 461.21 L668.00 461.23 L668.50 461.26 L669.00 461.28 L669.50 461.30 L670.00 461.33 L670.50 461.35 L671.00 461.38 L671.50 461.40 L672.00 461.42 L672.50 461.45 L673.00 461.47 L673.50 461.49 L674.00 461.52 L674.50 461.54 L675.00 461.56 L675.50 461.59 L676.00 461.61 L676.50 461.63 L677.00 461.66 L677.50 461.68 L678.00 461.70 L678.50 461.73 L679.00 461.75 L679.50 461.77 L680.00 461.80 L680.50 461.82 L681.00 461.84 L681.50 461.86 L682.00 461.89 L682.50 461.91 L683.00 461.93 L683.50 461.95 L684.00 461.98 L684.50 462.00 L685.00 462.02 L685.50 462.04 L686.00 462.06 L686.50 462.09 L687.00 462.11 L687.50 462.13 L688.00 462.15 L688.50 462.17 L689.00 462.20 L689.50 462.22 L690.00 462.24 L690.50 462.26 L691.00 462.28 L691.50 462.30 L692.00 462.32 L692.50 462.35 L693.00 462.37 L693.50 462.39 L694.00 462.41 L694.50 462.43 L695.00 462.45 L695.50 462.47 L696.00 462.49 L696.50 462.51 L697.00 462.54 L697.50 462.56 L698.00 462.58 L698.50 462.60 L699.00 462.62 L699.50 462.64 L700.00 462.66 L700.50 462.68 L701.00 462.70 L701.50 462.72 L702.00 462.74 L702.50 462.76 L703.00 462.78 L703.50 462.80 L704.00 462.82 L704.50 462.84 L705.00 462.86 L705.50 462.88 L706.00 462.90 L706.50 462.92 L707.00 462.94 L707.50 462.96 L708.00 462.98 L708.50 463.00 L709.00 463.02 L709.50 463.04 L710.00 463.06 L710.50 463.08 L711.00 463.10 L711.50 463.12 L712.00 463.14 L712.50 463.16 L713.00 463.18 L713.50 463.20 L714.00 463.22 L714.50 463.23 L715.00 463.25 L715.50 463.27 L716.00 463.29 L716.50 463.31 L717.00 463.33 L717.50 463.35 L718.00 463.37 L718.50 463.39 L719.00 463.40 L719.50 463.42 L720.00 463.44 L720.50 463.46 L721.00 463.48 L721.50 463.50 L722.00 463.52 L722.50 463.53 L723.00 463.55 L723.50 463.57 L724.00 463.59 L724.50 463.61 L725.00 463.63 L725.50 463.64 L726.00 463.66 L726.50 463.68 L727.00 463.70 L727.50 463.72 L728.00 463.73 L728.50 463.75 L729.00 463.77 L729.50 463.79 L730.00 463.81 L730.50 463.82 L731.00 463.84 L731.50 463.86 L732.00 463.88 L732.50 463.89 L733.00 463.91 L733.50 463.93 L734.00 463.95 L734.50 463.96 L735.00 463.98 L735.50 464.00 L736.00 464.02 L736.50 464.03 L737.00 464.05 L737.50 464.07 L738.00 464.09 L738.50 464.10 L739.00 464.12 L739.50 464.14 L740.00 464.15 L740.50 464.17 L741.00 464.19 L741.50 464.21 L742.00 464.22 L742.50 464.24 L743.00 464.26 L743.50 464.27 L744.00 464.29 L744.50 464.31 L745.00 464.32 L745.50 464.34 L746.00 464.36 L746.50 464.37 L747.00 464.39 L747.50 464.41 L748.00 464.42 L748.50 464.44 L749.00 464.45 L749.50 464.47 L750.00 464.49 L750.50 464.50 L751.00 464.52 L751.50 464.54 L752.00 464.55 L752.50 464.57 L753.00 464.58 L753.50 464.60 L754.00 464.62 L754.50 464.63 L755.00 464.65 L755.50 464.66 L756.00 464.68 L756.50 464.70 L757.00 464.71 L757.50 464.73 L758.00 464.74 L758.50 464.76 L759.00 464.77 L759.50 464.79 L760.00 464.81 L760.50 464.82 L761.00 464.84 L761.50 464.85 L762.00 464.87 L762.50 464.88 L762.60 464.89" stroke="#e19c24" stroke-dasharray="13.3 6.1"/>
<path d="M762.6 479.25 L844.7 479.25" stroke="#e19c24" stroke-dasharray="13.3 6.1" stroke-dashoffset="1.5"/>
<path d="M762.70 90.78 L763.20 97.12 L763.70 103.25 L764.20 109.18 L764.70 114.94 L765.20 120.51 L765.70 125.92 L766.20 131.17 L766.70 136.27 L767.20 141.21 L767.70 146.02 L768.20 150.69 L768.70 155.23 L769.20 159.65 L769.70 163.95 L770.20 168.14 L770.70 172.22 L771.20 176.19 L771.70 180.06 L772.20 183.83 L772.70 187.50 L773.20 191.09 L773.70 194.59 L774.20 198.01 L774.70 201.34 L775.20 204.60 L775.70 207.78 L776.20 210.89 L776.70 213.93 L777.20 216.90 L777.70 219.80 L778.20 222.64 L778.70 225.42 L779.20 228.14 L779.70 230.81 L780.20 233.41 L780.70 235.96 L781.20 238.46 L781.70 240.91 L782.20 243.31 L782.70 245.66 L783.20 247.97 L783.70 250.23 L784.20 252.45 L784.70 254.62 L785.20 256.75 L785.70 258.85 L786.20 260.90 L786.70 262.92 L787.20 264.89 L787.70 266.84 L788.20 268.74 L788.70 270.62 L789.20 272.46 L789.70 274.27 L790.20 276.05 L790.70 277.79 L791.20 279.51 L791.70 281.20 L792.20 282.86 L792.70 284.49 L793.20 286.10 L793.70 287.67 L794.20 289.23 L794.70 290.76 L795.20 292.26 L795.70 293.74 L796.20 295.20 L796.70 296.63 L797.20 298.04 L797.70 299.43 L798.20 300.80 L798.70 302.15 L799.20 303.48 L799.70 304.79 L800.20 306.08 L800.70 307.35 L801.20 308.60 L801.70 309.83 L802.20 311.05 L802.70 312.25 L803.20 313.43 L803.70 314.60 L804.20 315.74 L804.70 316.88 L805.20 317.99 L805.70 319.10 L806.20 320.18 L806.70 321.26 L807.20 322.31 L807.70 323.36 L808.20 324.39 L808.70 325.40 L809.20 326.41 L809.70 327.40 L810.20 328.38 L810.70 329.34 L811.20 330.29 L811.70 331.23 L812.20 332.16 L812.70 333.08 L813.20 333.99 L813.70 334.88 L814.20 335.77 L814.70 336.64 L815.20 337.50 L815.70 338.35 L816.20 339.20 L816.70 340.03 L817.20 340.85 L817.70 341.66 L818.20 342.47 L818.70 343.26 L819.20 344.04 L819.70 344.82 L820.20 345.59 L820.70 346.34 L821.20 347.09 L821.70 347.84 L822.20 348.57 L822.70 349.29 L823.20 350.01 L823.70 350.72 L824.20 351.42 L824.70 352.11 L825.20 352.80 L825.70 353.48 L826.20 354.15 L826.70 354.81 L827.20 355.47 L827.70 356.12 L828.20 356.76 L828.70 357.40 L829.20 358.03 L829.70 358.66 L830.20 359.27 L830.70 359.88 L831.20 360.49 L831.70 361.09 L832.20 361.68 L832.70 362.27 L833.20 362.85 L833.70 363.42 L834.20 363.99 L834.70 364.56 L835.20 365.12 L835.70 365.67 L836.20 366.22 L836.70 366.76 L837.20 367.30 L837.70 367.83 L838.20 368.36 L838.70 368.88 L839.20 369.40 L839.70 369.91 L840.20 370.42 L840.70 370.92 L841.20 371.42 L841.70 371.91 L842.20 372.40 L842.70 372.89 L843.20 373.37 L843.70 373.84 L844.20 374.32 L844.70 374.78" stroke="#8fb032" stroke-dasharray="13.3 6.1"/>
<path d="M110.9 479.25 L764.0 479.25" stroke="#eb6235"/>
<path d="M760.90 464.47 L762.90 464.57 L764.90 464.67 L766.90 464.77 L768.90 464.87 L770.90 464.97 L772.90 465.07 L774.90 465.16 L776.90 465.26 L778.90 465.35 L780.90 465.44 L782.90 465.53 L784.90 465.62 L786.90 465.71 L788.90 465.79 L790.90 465.88 L792.90 465.96 L794.90 466.05 L796.90 466.13 L798.90 466.21 L800.90 466.29 L802.90 466.37 L804.90 466.45 L806.90 466.53 L808.90 466.61 L810.90 466.68 L812.90 466.76 L814.90 466.83 L816.90 466.90 L818.90 466.98 L820.90 467.05 L822.90 467.12 L824.90 467.19 L826.90 467.26 L828.90 467.33 L830.90 467.39 L832.90 467.46 L834.90 467.53 L836.90 467.59 L838.90 467.66 L840.90 467.72 L842.90 467.78 L844.70 467.84" stroke="#eb6235"/>
</g>
<g stroke="#646464" stroke-width="1.5" stroke-opacity="0.9" fill="none">
<rect x="98.0" y="9.0" width="760.25" height="470.25"/>
</g>
<g stroke="#666" stroke-width="1.2" fill="none">
<line x1="113.00" y1="479.25" x2="113.00" y2="471.25"/>
<line x1="113.00" y1="9.0" x2="113.00" y2="17.0"/>
<line x1="186.00" y1="479.25" x2="186.00" y2="474.25"/>
<line x1="186.00" y1="9.0" x2="186.00" y2="14.0"/>
<line x1="259.00" y1="479.25" x2="259.00" y2="471.25"/>
<line x1="259.00" y1="9.0" x2="259.00" y2="17.0"/>
<line x1="332.00" y1="479.25" x2="332.00" y2="474.25"/>
<line x1="332.00" y1="9.0" x2="332.00" y2="14.0"/>
<line x1="405.00" y1="479.25" x2="405.00" y2="471.25"/>
<line x1="405.00" y1="9.0" x2="405.00" y2="17.0"/>
<line x1="478.00" y1="479.25" x2="478.00" y2="474.25"/>
<line x1="478.00" y1="9.0" x2="478.00" y2="14.0"/>
<line x1="551.00" y1="479.25" x2="551.00" y2="471.25"/>
<line x1="551.00" y1="9.0" x2="551.00" y2="17.0"/>
<line x1="624.00" y1="479.25" x2="624.00" y2="474.25"/>
<line x1="624.00" y1="9.0" x2="624.00" y2="14.0"/>
<line x1="697.00" y1="479.25" x2="697.00" y2="471.25"/>
<line x1="697.00" y1="9.0" x2="697.00" y2="17.0"/>
<line x1="770.00" y1="479.25" x2="770.00" y2="474.25"/>
<line x1="770.00" y1="9.0" x2="770.00" y2="14.0"/>
<line x1="843.00" y1="479.25" x2="843.00" y2="471.25"/>
<line x1="843.00" y1="9.0" x2="843.00" y2="17.0"/>
<line x1="98.0" y1="479.25" x2="106.0" y2="479.25"/>
<line x1="858.25" y1="479.25" x2="850.25" y2="479.25"/>
<line x1="98.0" y1="457.64" x2="103.0" y2="457.64"/>
<line x1="858.25" y1="457.64" x2="853.25" y2="457.64"/>
<line x1="98.0" y1="436.02" x2="103.0" y2="436.02"/>
<line x1="858.25" y1="436.02" x2="853.25" y2="436.02"/>
<line x1="98.0" y1="414.41" x2="103.0" y2="414.41"/>
<line x1="858.25" y1="414.41" x2="853.25" y2="414.41"/>
<line x1="98.0" y1="392.80" x2="106.0" y2="392.80"/>
<line x1="858.25" y1="392.80" x2="850.25" y2="392.80"/>
<line x1="98.0" y1="371.19" x2="103.0" y2="371.19"/>
<line x1="858.25" y1="371.19" x2="853.25" y2="371.19"/>
<line x1="98.0" y1="349.57" x2="103.0" y2="349.57"/>
<line x1="858.25" y1="349.57" x2="853.25" y2="349.57"/>
<line x1="98.0" y1="327.96" x2="103.0" y2="327.96"/>
<line x1="858.25" y1="327.96" x2="853.25" y2="327.96"/>
<line x1="98.0" y1="306.35" x2="106.0" y2="306.35"/>
<line x1="858.25" y1="306.35" x2="850.25" y2="306.35"/>
<line x1="98.0" y1="284.74" x2="103.0" y2="284.74"/>
<line x1="858.25" y1="284.74" x2="853.25" y2="284.74"/>
<line x1="98.0" y1="263.12" x2="103.0" y2="263.12"/>
<line x1="858.25" y1="263.12" x2="853.25" y2="263.12"/>
<line x1="98.0" y1="241.51" x2="103.0" y2="241.51"/>
<line x1="858.25" y1="241.51" x2="853.25" y2="241.51"/>
<line x1="98.0" y1="219.90" x2="106.0" y2="219.90"/>
<line x1="858.25" y1="219.90" x2="850.25" y2="219.90"/>
<line x1="98.0" y1="198.29" x2="103.0" y2="198.29"/>
<line x1="858.25" y1="198.29" x2="853.25" y2="198.29"/>
<line x1="98.0" y1="176.67" x2="103.0" y2="176.67"/>
<line x1="858.25" y1="176.67" x2="853.25" y2="176.67"/>
<line x1="98.0" y1="155.06" x2="103.0" y2="155.06"/>
<line x1="858.25" y1="155.06" x2="853.25" y2="155.06"/>
<line x1="98.0" y1="133.45" x2="106.0" y2="133.45"/>
<line x1="858.25" y1="133.45" x2="850.25" y2="133.45"/>
<line x1="98.0" y1="111.84" x2="103.0" y2="111.84"/>
<line x1="858.25" y1="111.84" x2="853.25" y2="111.84"/>
<line x1="98.0" y1="90.22" x2="103.0" y2="90.22"/>
<line x1="858.25" y1="90.22" x2="853.25" y2="90.22"/>
<line x1="98.0" y1="68.61" x2="103.0" y2="68.61"/>
<line x1="858.25" y1="68.61" x2="853.25" y2="68.61"/>
<line x1="98.0" y1="47.00" x2="106.0" y2="47.00"/>
<line x1="858.25" y1="47.00" x2="850.25" y2="47.00"/>
<line x1="98.0" y1="25.39" x2="103.0" y2="25.39"/>
<line x1="858.25" y1="25.39" x2="853.25" y2="25.39"/>
</g>
<g font-family="Liberation Sans, sans-serif" fill="#666">
<text transform="translate(57.56 486.35) scale(1.0 1.045)" font-size="24.2" text-anchor="start">0.0</text>
<text transform="translate(57.56 399.90) scale(1.0 1.045)" font-size="24.2" text-anchor="start">0.2</text>
<text transform="translate(57.56 313.45) scale(1.0 1.045)" font-size="24.2" text-anchor="start">0.4</text>
<text transform="translate(57.56 227.00) scale(1.0 1.045)" font-size="24.2" text-anchor="start">0.6</text>
<text transform="translate(57.56 140.55) scale(1.0 1.045)" font-size="24.2" text-anchor="start">0.8</text>
<path transform="translate(57.56 54.10) scale(0.01182 -0.01205)" d="M763 0H583V1147Q518 1085 412.5 1023T223 930V1104Q374 1175 487 1276T647 1472H763Z"/>
<text transform="translate(71.02 54.10) scale(1.0 1.045)" font-size="24.2" text-anchor="start">.0</text>
<text transform="translate(96.08 508.20) scale(1.0 1.045)" font-size="24.2" text-anchor="start">0.</text>
<path transform="translate(116.26 508.20) scale(0.01182 -0.01205)" d="M763 0H583V1147Q518 1085 412.5 1023T223 930V1104Q374 1175 487 1276T647 1472H763Z"/>
<path transform="translate(222.90 508.20) scale(0.01182 -0.01205)" d="M763 0H583V1147Q518 1085 412.5 1023T223 930V1104Q374 1175 487 1276T647 1472H763Z"/>
<text transform="translate(236.35 508.20) scale(1.0 1.045)" font-size="24.2" text-anchor="start">000.0</text>
<path transform="translate(385.50 511.80) scale(0.01182 -0.01205)" d="M763 0H583V1147Q518 1085 412.5 1023T223 930V1104Q374 1175 487 1276T647 1472H763Z"/>
<text transform="translate(398.95 511.80) scale(1.0 1.045)" font-size="24.2" text-anchor="start">0</text>
<text transform="translate(412.41 502.90) scale(1.0 1.075)" font-size="21.4" text-anchor="start">7</text>
<path transform="translate(523.95 513.70) scale(0.01182 -0.01205)" d="M763 0H583V1147Q518 1085 412.5 1023T223 930V1104Q374 1175 487 1276T647 1472H763Z"/>
<text transform="translate(537.40 513.70) scale(1.0 1.045)" font-size="24.2" text-anchor="start">0</text>
<path transform="translate(550.86 504.80) scale(0.01045 -0.01096)" d="M763 0H583V1147Q518 1085 412.5 1023T223 930V1104Q374 1175 487 1276T647 1472H763Z"/>
<path transform="translate(562.76 504.80) scale(0.01045 -0.01096)" d="M763 0H583V1147Q518 1085 412.5 1023T223 930V1104Q374 1175 487 1276T647 1472H763Z"/>
<path transform="translate(671.15 513.70) scale(0.01182 -0.01205)" d="M763 0H583V1147Q518 1085 412.5 1023T223 930V1104Q374 1175 487 1276T647 1472H763Z"/>
<text transform="translate(684.60 513.70) scale(1.0 1.045)" font-size="24.2" text-anchor="start">0</text>
<path transform="translate(698.06 504.80) scale(0.01045 -0.01096)" d="M763 0H583V1147Q518 1085 412.5 1023T223 930V1104Q374 1175 487 1276T647 1472H763Z"/>
<text transform="translate(709.96 504.80) scale(1.0 1.075)" font-size="21.4" text-anchor="start">5</text>
<path transform="translate(816.35 513.70) scale(0.01182 -0.01205)" d="M763 0H583V1147Q518 1085 412.5 1023T223 930V1104Q374 1175 487 1276T647 1472H763Z"/>
<text transform="translate(829.80 513.70) scale(1.0 1.045)" font-size="24.2" text-anchor="start">0</text>
<path transform="translate(843.26 504.80) scale(0.01045 -0.01096)" d="M763 0H583V1147Q518 1085 412.5 1023T223 930V1104Q374 1175 487 1276T647 1472H763Z"/>
<text transform="translate(855.16 504.80) scale(1.0 1.075)" font-size="21.4" text-anchor="start">9</text>
<text transform="translate(0.90 251.00) scale(1.0 0.985)" font-size="24.2" text-anchor="start" font-style="italic">α</text>
<text transform="translate(14.8 251) skewX(-4)" font-size="24.2">(</text>
<text transform="translate(24.30 251.00) scale(1.0 1.0)" font-size="24.2" text-anchor="start" font-style="italic">μ</text>
<text transform="translate(37.2 251) skewX(-4)" font-size="24.2">)</text>
<text transform="translate(434.00 553.90) scale(1.0 1.01)" font-size="24.2" text-anchor="start" font-style="italic">μ</text>
<text transform="translate(459.90 553.50) scale(1.0 1.0)" font-size="23.9" text-anchor="start">(GeV)</text>
</g>
<g font-family="Liberation Sans, sans-serif" fill="#000">
<text transform="translate(145.80 241.70) scale(1.0 0.96)" font-size="25.4" text-anchor="start" font-style="italic">α</text>
<text transform="translate(160.20 246.20) scale(1.0 1.045)" font-size="23.5" text-anchor="start" font-style="italic">c</text>
<text transform="translate(344.30 240.70) scale(1.0 0.96)" font-size="25.4" text-anchor="start" font-style="italic">α</text>
<text transform="translate(359.00 245.60) scale(1.0 1.045)" font-size="21.4" text-anchor="start" font-style="italic">D</text>
<text transform="translate(797.10 254.80) scale(1.0 0.96)" font-size="25.4" text-anchor="start" font-style="italic">α</text>
<text transform="translate(809.60 258.80) scale(1.0 1.045)" font-size="29.2" text-anchor="start" font-style="italic">'</text>
<text transform="translate(778.30 437.90) scale(1.0 0.96)" font-size="25.4" text-anchor="start" font-style="italic">α</text>
<text transform="translate(792.60 444.20) scale(1.0 0.95)" font-size="23.2" text-anchor="start">6</text>
</g>
</svg>
</body></html>
